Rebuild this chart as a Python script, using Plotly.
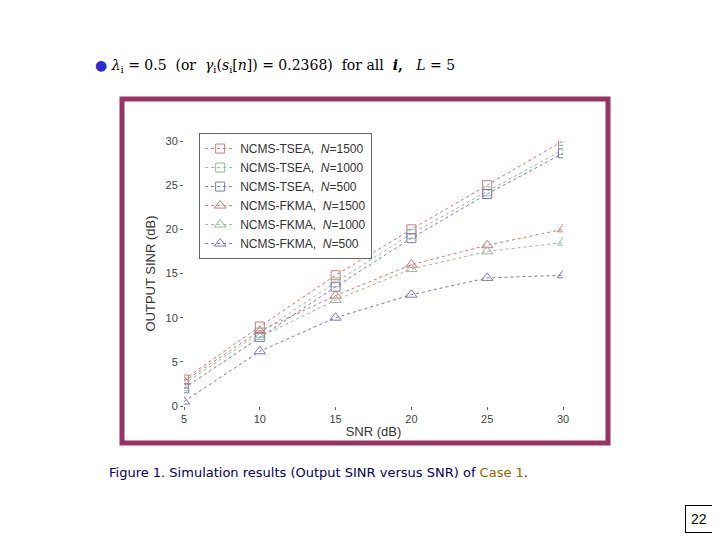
import plotly.graph_objects as go

snr = [5, 10, 15, 20, 25, 30]
tsea_1500 = [3.0, 9.0, 14.8, 20.0, 25.0, 30.0]
tsea_1000 = [2.5, 8.3, 14.0, 19.5, 24.3, 29.0]
tsea_500 = [2.0, 7.8, 13.5, 19.0, 24.0, 28.6]
fkma_1500 = [2.8, 8.5, 12.5, 16.0, 18.2, 20.0]
fkma_1000 = [2.0, 7.8, 12.0, 15.5, 17.5, 18.5]
fkma_500 = [0.5, 6.2, 10.0, 12.6, 14.5, 14.8]

red, green, blue = "#d07878", "#98b898", "#7878c0"

def px_x(p):
    return (p - 183) / 379

def px_y(p):
    return (405 - p) / 265

fig = go.Figure()
for y, c, n in [(tsea_1500, red, "NCMS-TSEA,  <i>N</i>=1500"),
                (tsea_1000, green, "NCMS-TSEA,  <i>N</i>=1000"),
                (tsea_500, blue, "NCMS-TSEA,  <i>N</i>=500")]:
    fig.add_trace(go.Scatter(x=snr, y=y, mode="lines+markers", name=n,
                             line=dict(color=c, width=1, dash="dot"),
                             marker=dict(symbol="square-open", size=9, color=c)))
for y, c, n in [(fkma_1500, red, "NCMS-FKMA,  <i>N</i>=1500"),
                (fkma_1000, green, "NCMS-FKMA,  <i>N</i>=1000"),
                (fkma_500, blue, "NCMS-FKMA,  <i>N</i>=500")]:
    fig.add_trace(go.Scatter(x=snr, y=y, mode="lines+markers", name=n,
                             line=dict(color=c, width=1, dash="dot"),
                             marker=dict(symbol="triangle-up-open", size=10, color=c)))

axis_font = dict(family="Liberation Sans", size=11, color="#444")
fig.update_layout(
    width=720, height=540,
    margin=dict(l=176, r=165, t=133, b=142),
    paper_bgcolor="white", plot_bgcolor="white",
    font=dict(family="Liberation Sans", size=11, color="#333"),
    showlegend=True,
    legend=dict(x=0.04, y=1.03, xanchor="left", yanchor="top",
                bgcolor="white", bordercolor="#666", borderwidth=1,
                font=dict(size=12, color="#333"), tracegroupgap=0),
    xaxis=dict(range=[5, 30], tickvals=snr, showgrid=False, zeroline=False,
               ticks="outside", ticklen=3, tickcolor="#666", tickfont=axis_font,
               title=dict(text="SNR (dB)", font=dict(size=13, color="#333"), standoff=2)),
    yaxis=dict(range=[0, 30], tickvals=[0, 5, 10, 15, 20, 25, 30], showgrid=False,
               zeroline=False, ticks="outside", ticklen=3, tickcolor="#666",
               tickfont=axis_font,
               title=dict(text="OUTPUT SINR (dB)", font=dict(size=13, color="#333"), standoff=6)),
    shapes=[dict(type="rect", xref="paper", yref="paper",
                 x0=px_x(121), x1=px_x(607), y0=px_y(442), y1=px_y(98),
                 line=dict(color="#993366", width=5), layer="below")],
    annotations=[
        dict(text="<span style='color:#2b2bd0'>●</span> <i>λ</i><sub>i</sub> = 0.5  (or  <i>γ</i><sub>i</sub>(<i>s</i><sub>i</sub>[<i>n</i>]) = 0.2368)  for all  <b><i>i</i>,</b>   <i>L</i> = 5",
             xref="paper", yref="paper", x=px_x(92), y=px_y(65), xanchor="left",
             yanchor="middle", showarrow=False,
             font=dict(family="DejaVu Serif", size=14, color="black")),
        dict(text="Figure 1. Simulation results (Output SINR versus SNR) of <span style='color:#996600'>Case 1</span>.",
             xref="paper", yref="paper", x=px_x(106), y=px_y(471), xanchor="left",
             yanchor="middle", showarrow=False,
             font=dict(family="DejaVu Sans", size=13, color="#000066")),
        dict(text="22", xref="paper", yref="paper", x=px_x(712), y=px_y(518),
             xanchor="right", yanchor="middle", showarrow=False,
             bordercolor="black", borderwidth=1, borderpad=5, bgcolor="white",
             font=dict(family="Liberation Sans", size=14, color="black")),
    ],
)

fig.write_html("out.html")
